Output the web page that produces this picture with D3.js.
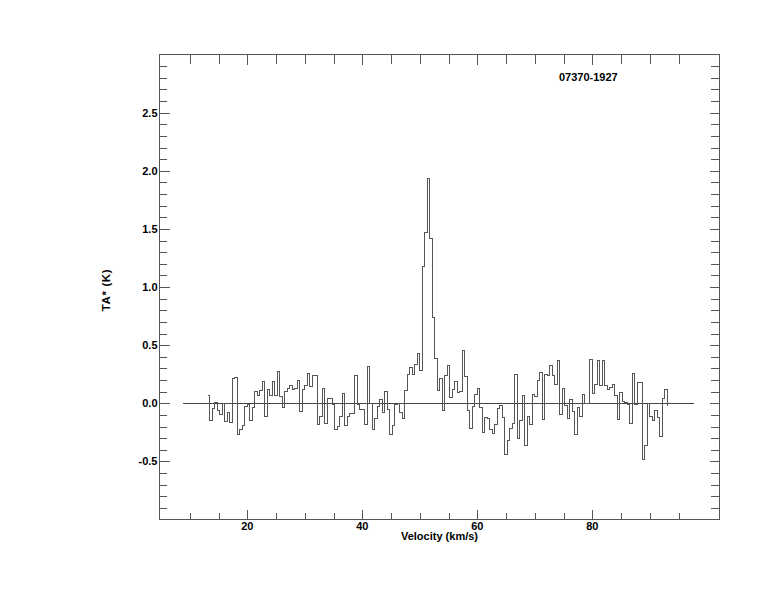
<!DOCTYPE html>
<html>
<head>
<meta charset="utf-8">
<script src="https://cdn.jsdelivr.net/npm/d3@7"></script>
<style>
  html, body { margin: 0; padding: 0; background: #fff; }
  svg { display: block; }
  text { font-family: "Liberation Sans", Arial, Helvetica, sans-serif; font-weight: bold; fill: #000; }
</style>
</head>
<body>
<script>
// ---------------- data ----------------
const sourceName = "07370-1927";
const xTitle = "Velocity (km/s)";
const yTitle = "TA* (K)";
const firstChannelVelocity = 13.22;   // km/s, centre of first channel
const channelWidth = 0.4348;          // km/s
const antennaTemp = [
  0.07, -0.15, -0.045, 0.01, -0.065, -0.095, 0.0, -0.155, -0.08, -0.165,
  0.21, 0.225, -0.265, -0.23, -0.19, -0.03, -0.015, -0.145, -0.035, 0.10,
  0.07, 0.11, 0.19, -0.115, 0.12, 0.07, 0.19, 0.07, 0.27, 0.06,
  -0.04, 0.10, 0.13, 0.15, 0.12, 0.13, 0.20, -0.07, 0.12, 0.15,
  0.26, 0.14, 0.24, 0.24, -0.18, -0.11, 0.13, -0.17, 0.04, 0.045,
  -0.015, -0.23, -0.20, -0.11, 0.08, -0.195, -0.11, -0.086, -0.086, 0.24,
  -0.01, -0.05, -0.057, -0.18, 0.32, 0.0, -0.23, -0.13, -0.03, 0.035,
  -0.08, 0.10, -0.05, -0.27, -0.19, -0.015, 0.0, -0.08, -0.13, 0.11,
  0.25, 0.305, 0.25, 0.335, 0.425, 0.28, 1.18, 1.47, 1.93, 1.415,
  0.74, 0.385, 0.106, 0.215, -0.063, 0.238, 0.324, 0.052, 0.115, 0.19,
  0.095, 0.10, 0.456, 0.232, -0.066, -0.22, -0.026, 0.075, 0.13, -0.034,
  -0.25, -0.12, -0.13, -0.23, -0.26, -0.18, -0.043, -0.017, -0.12, -0.44,
  -0.32, -0.215, -0.17, 0.25, -0.30, -0.146, 0.07, -0.367, -0.117, -0.186,
  0.077, 0.06, 0.198, 0.266, -0.143, 0.25, 0.238, 0.327, 0.24, 0.163,
  0.37, -0.10, 0.123, -0.023, -0.135, 0.034, -0.072, -0.27, -0.034, -0.118,
  0.072, 0.0, 0.0, 0.38, 0.086, 0.158, 0.367, 0.149, 0.37, 0.149,
  0.115, 0.135, 0.158, 0.063, -0.143, 0.095, 0.014, 0.009, -0.014, -0.172,
  0.258, -0.009, 0.18, 0.18, -0.48, -0.364, 0.0, -0.115, -0.149, -0.066,
  -0.123, -0.287, 0.043, 0.12, -0.02
];
const baselineRange = [8.8, 97.7];
const xDomain = [4.73, 102.12];
const yDomain = [-1.0, 3.0];
const xMajorTicks = [20, 40, 60, 80];
const xMinorTicks = [10, 15, 25, 30, 35, 45, 50, 55, 65, 70, 75, 85, 90, 95];
const yMajorTicks = [-0.5, 0.0, 0.5, 1.0, 1.5, 2.0, 2.5];
const yTickLabels = ["-0.5", "0.0", "0.5", "1.0", "1.5", "2.0", "2.5"];
const yMinorTicks = [-0.9,-0.8,-0.7,-0.6,-0.4,-0.3,-0.2,-0.1,0.1,0.2,0.3,0.4,0.6,0.7,0.8,0.9,
  1.1,1.2,1.3,1.4,1.6,1.7,1.8,1.9,2.1,2.2,2.3,2.4,2.6,2.7,2.8,2.9];

// ---------------- layout ----------------
const W = 774, H = 612;
const L = 159.5, R = 719.5, T = 54.5, B = 519.5;
const axisColor = "#555";

const svg = d3.select("body").append("svg").attr("width", W).attr("height", H);

const x = d3.scaleLinear().domain(xDomain).range([L, R]);
const y = d3.scaleLinear().domain(yDomain).range([B, T]);

const spectrum = antennaTemp.map((t, i) => ({ v: firstChannelVelocity + i * channelWidth, t }));

// frame
svg.append("rect").attr("x", L).attr("y", T).attr("width", R - L).attr("height", B - T)
  .attr("fill", "none").attr("stroke", axisColor).attr("stroke-width", 1);

function styleAxis(g) {
  g.select(".domain").remove();
  g.selectAll("line").attr("stroke", axisColor).attr("stroke-width", 1)
    .attr("shape-rendering", "crispEdges");
  g.selectAll("text").remove();
}
// bottom
svg.append("g").attr("transform", `translate(0,${B})`)
  .call(d3.axisTop(x).tickValues(xMajorTicks).tickSize(9.5).tickSizeOuter(0)).call(styleAxis);
svg.append("g").attr("transform", `translate(0,${B})`)
  .call(d3.axisTop(x).tickValues(xMinorTicks).tickSize(7).tickSizeOuter(0)).call(styleAxis);
// top
svg.append("g").attr("transform", `translate(0,${T})`)
  .call(d3.axisBottom(x).tickValues(xMajorTicks).tickSize(10).tickSizeOuter(0)).call(styleAxis);
svg.append("g").attr("transform", `translate(0,${T})`)
  .call(d3.axisBottom(x).tickValues(xMinorTicks).tickSize(9).tickSizeOuter(0)).call(styleAxis);
// left
svg.append("g").attr("transform", `translate(${L},0)`)
  .call(d3.axisRight(y).tickValues(yMajorTicks).tickSize(10.5).tickSizeOuter(0)).call(styleAxis);
svg.append("g").attr("transform", `translate(${L},0)`)
  .call(d3.axisRight(y).tickValues(yMinorTicks).tickSize(7).tickSizeOuter(0)).call(styleAxis);
// right
svg.append("g").attr("transform", `translate(${R},0)`)
  .call(d3.axisLeft(y).tickValues(yMajorTicks).tickSize(10).tickSizeOuter(0)).call(styleAxis);
svg.append("g").attr("transform", `translate(${R},0)`)
  .call(d3.axisLeft(y).tickValues(yMinorTicks).tickSize(9).tickSizeOuter(0)).call(styleAxis);

// tick labels
svg.append("g").selectAll("text").data(xMajorTicks).join("text")
  .attr("x", d => x(d)).attr("y", 529.5).attr("text-anchor", "middle")
  .attr("font-size", 11).text(d => d);
svg.append("g").selectAll("text").data(yMajorTicks).join("text")
  .attr("x", 157.5).attr("y", d => y(d)).attr("dy", "0.36em").attr("text-anchor", "end")
  .attr("font-size", 11).text((d, i) => yTickLabels[i]);

// titles
svg.append("text").attr("x", (L + R) / 2).attr("y", 539.5).attr("text-anchor", "middle")
  .attr("font-size", 11).text(xTitle);
svg.append("text").attr("transform", `translate(110,290) rotate(-90)`).attr("text-anchor", "middle")
  .attr("font-size", 11.5).attr("letter-spacing", 0.6).text(yTitle);
svg.append("text").attr("x", 559).attr("y", 80.7).attr("font-size", 11).text(sourceName);

// zero baseline
svg.append("line")
  .attr("x1", x(baselineRange[0])).attr("x2", x(baselineRange[1]))
  .attr("y1", y(0)).attr("y2", y(0))
  .attr("stroke", "#444").attr("stroke-width", 1).attr("shape-rendering", "crispEdges");

// spectrum histogram
const line = d3.line().x(d => x(d.v)).y(d => y(d.t)).curve(d3.curveStep);
svg.append("path").datum(spectrum).attr("d", line)
  .attr("fill", "none").attr("stroke", "#555").attr("stroke-width", 1)
  .attr("shape-rendering", "crispEdges");
</script>
</body>
</html>
